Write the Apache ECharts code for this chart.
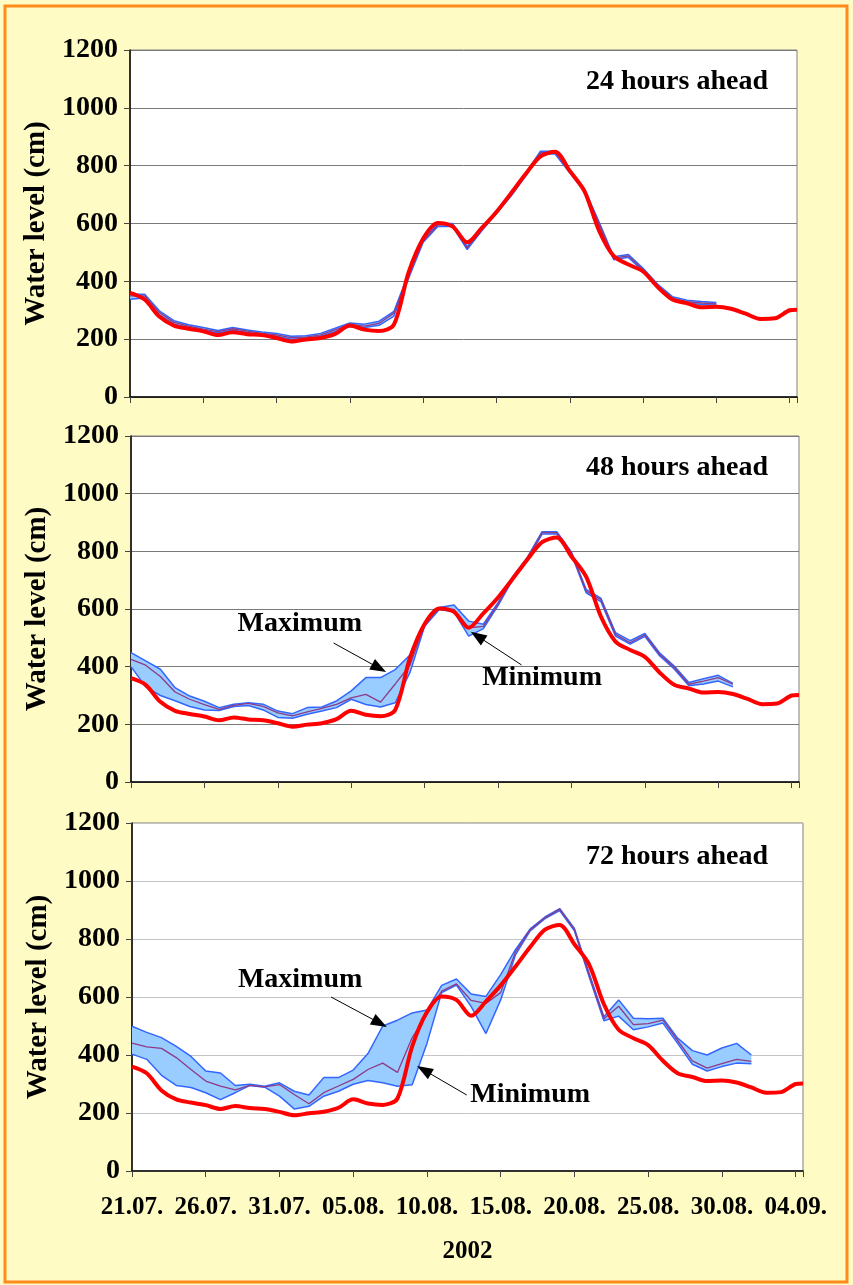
<!DOCTYPE html>
<html>
<head>
<meta charset="utf-8">
<script src="https://cdn.jsdelivr.net/npm/echarts@6/dist/echarts.min.js"></script>
<style>
  html, body { margin: 0; padding: 0; background: #FFFBC4; }
  #chart { width: 853px; height: 1285px; }
</style>
</head>
<body>
<div id="chart"></div>
<script>
// ---- Data (water level in cm, one value per day starting 21.07.2002) ----
const tickLabels = ['21.07.', '26.07.', '31.07.', '05.08.', '10.08.', '15.08.', '20.08.', '25.08.', '30.08.', '04.09.'];
const panelTitles = ['24 hours ahead', '48 hours ahead', '72 hours ahead'];
const yearLabel = '2002';
const yAxisName = 'Water level (cm)';

// observed water level (red); last sample is half a day after 04.09.
const observed = [360,337,278,247,236,227,214,224,217,214,
                  204,192,199,204,218,247,233,228,250,430,
                  548,602,590,535,585,640,705,772,832,848,
                  782,712,575,487,458,434,380,337,324,310,
                  312,305,288,270,272,300,302];
const observedDays = [0,1,2,3,4,5,6,7,8,9,10,11,12,13,14,15,16,17,18,19,20,21,22,23,24,25,26,27,28,29,30,31,32,33,34,35,36,37,38,39,40,41,42,43,44,45,45.5];

// 24 hours ahead forecasts
const max24  = [355,355,298,264,250,240,230,240,232,225,220,210,212,220,238,256,252,262,296,428,545,600,600,520,585,645,705,775,850,850,785,720,605,485,493,445,390,347,335,330,327];
const mean24 = [350,350,292,258,245,235,226,236,228,220,215,205,207,215,232,250,245,255,290,420,540,595,595,515,580,640,700,770,845,845,780,716,600,480,488,440,385,342,330,325,322];
const min24  = [338,342,284,252,240,230,221,231,223,215,210,200,202,210,226,244,240,248,280,410,535,590,590,510,575,635,695,765,840,840,775,710,595,475,483,435,380,337,325,320,317];

// 48 hours ahead forecasts
const max48  = [449,420,391,327,298,280,258,270,275,270,246,237,258,260,281,316,362,362,390,440,550,605,614,558,547,622,712,780,868,868,798,668,638,518,490,515,448,402,345,358,370,342];
const mean48 = [425,405,366,312,287,268,252,266,273,262,240,229,243,255,269,292,304,277,340,405,545,602,599,535,540,617,707,775,865,865,795,662,633,512,483,510,443,397,339,350,362,339];
const min48  = [400,330,300,282,262,250,248,262,265,250,224,221,235,246,258,287,269,260,275,380,540,598,590,506,532,612,702,770,860,860,790,656,626,506,478,505,438,392,334,340,350,330];

// 72 hours ahead forecasts
const max72  = [499,478,460,430,395,345,338,295,299,292,304,275,262,322,322,348,405,500,520,545,555,640,662,610,602,677,763,835,876,905,836,682,532,590,527,525,527,458,415,400,424,440,400];
const mean72 = [441,428,423,391,350,310,293,280,295,290,298,264,232,270,293,316,350,372,340,460,540,620,645,588,578,615,755,832,873,902,832,675,525,568,505,508,520,450,380,355,370,385,378];
const min72  = [403,385,330,295,288,270,246,270,295,289,258,214,223,258,275,299,312,304,292,297,440,615,641,567,474,590,745,828,870,898,828,670,518,534,487,497,510,440,368,345,360,372,370];

// annotations [label, label day, label value, arrow start day, start value, arrow end day, end value]
const notes48 = [
  ['Maximum', 11.5, 548, 13.8, 482, 16.9, 395],
  ['Minimum', 28.0, 361, 26.6, 406, 23.6, 506]
];
const notes72 = [
  ['Maximum', 11.4, 659, 13.5, 600, 16.8, 510],
  ['Minimum', 27.0, 262, 22.7, 262, 19.8, 348]
];

// ---- Chart ----
const FONT = "'Liberation Serif', 'Times New Roman', serif";
const panels = [
  {max: max24, mean: mean24, min: min24, notes: [], grid: {left: 130, top: 50, width: 667, height: 347}, split: '#7a7a7a', titleTop: 63},
  {max: max48, mean: mean48, min: min48, notes: notes48, grid: {left: 131, top: 436, width: 668, height: 346}, split: '#7a7a7a', titleTop: 449},
  {max: max72, mean: mean72, min: min72, notes: notes72, grid: {left: 132, top: 823, width: 671, height: 348}, split: '#c4c4c4', titleTop: 838}
];

const pairs = (arr) => arr.map((v, i) => [i, v]);

const option = {
  animation: false,
  backgroundColor: '#FFFBC4',
  graphic: [{
    type: 'rect', silent: true, z: 100,
    shape: {x: 5, y: 6, width: 842, height: 1276},
    style: {fill: 'none', stroke: '#FF8C1A', lineWidth: 3}
  }],
  title: panels.map((p, k) => ({
    text: panelTitles[k], right: 80, top: p.titleTop,
    textStyle: {fontFamily: FONT, fontSize: 28, fontWeight: 'bold', color: '#000'}
  })),
  grid: panels.map(p => Object.assign({show: true, backgroundColor: '#fff', borderColor: '#808080', borderWidth: 1}, p.grid)),
  xAxis: panels.map((p, k) => ({
    type: 'value', gridIndex: k, min: 0, max: 45.5, interval: 5,
    axisLine: {show: true, onZero: false, lineStyle: {color: '#000', width: 1.5}},
    axisTick: {show: true, inside: false, length: 6, lineStyle: {color: '#444'}},
    splitLine: {show: false},
    axisLabel: {
      show: k === 2, margin: 24, color: '#000', fontFamily: FONT, fontSize: 25, fontWeight: 'bold',
      formatter: v => (v % 5 === 0 ? tickLabels[v / 5] : '')
    },
    name: k === 2 ? yearLabel : '', nameLocation: 'middle', nameGap: 68,
    nameTextStyle: {color: '#000', fontFamily: FONT, fontSize: 25, fontWeight: 'bold'}
  })),
  yAxis: panels.map((p, k) => ({
    type: 'value', gridIndex: k, min: 0, max: 1200, interval: 200,
    axisLine: {show: true, lineStyle: {color: '#000', width: 1.5}},
    axisTick: {show: true, inside: false, length: 6, lineStyle: {color: '#444'}},
    splitLine: {show: true, lineStyle: {color: p.split, width: 1}},
    axisLabel: {margin: 12, color: '#000', fontFamily: FONT, fontSize: 28, fontWeight: 'bold', formatter: v => String(v)},
    name: yAxisName, nameLocation: 'middle', nameGap: 62, nameRotate: 90,
    nameTextStyle: {color: '#000', fontFamily: FONT, fontSize: 29, fontWeight: 'bold'}
  })),
  series: []
};

panels.forEach((p, k) => {
  // filled band between minimum and maximum forecast
  option.series.push({
    type: 'custom', xAxisIndex: k, yAxisIndex: k, z: 1, silent: true,
    data: [[0, 0]],
    encode: {x: 0, y: 1},
    renderItem: (params, api) => {
      const pts = [];
      p.max.forEach((v, i) => pts.push(api.coord([i, v])));
      for (let i = p.min.length - 1; i >= 0; i--) pts.push(api.coord([i, p.min[i]]));
      return {type: 'polygon', shape: {points: pts}, style: {fill: '#99CCFF', stroke: 'none'}};
    }
  });
  // band edges
  [p.max, p.min].forEach(arr => option.series.push({
    type: 'line', xAxisIndex: k, yAxisIndex: k, symbol: 'none', z: 2,
    data: pairs(arr),
    lineStyle: {color: '#3366FF', width: 1.5}
  }));
  // mean forecast
  const meanSeries = {
    type: 'line', xAxisIndex: k, yAxisIndex: k, symbol: 'none', z: 3,
    data: pairs(p.mean),
    lineStyle: {color: '#8E3A86', width: 1.3}
  };
  if (p.notes.length) {
    meanSeries.markLine = {
      silent: true, animation: false,
      label: {show: false},
      itemStyle: {color: '#000'},
      lineStyle: {color: '#000', width: 1, type: 'solid'},
      data: p.notes.map(n => [
        {coord: [n[3], n[4]], symbol: 'none'},
        {coord: [n[5], n[6]], symbol: 'triangle', symbolSize: [12, 16]}
      ])
    };
    meanSeries.markPoint = {
      silent: true, animation: false, symbol: 'circle', symbolSize: 1,
      itemStyle: {color: 'rgba(0,0,0,0)'},
      label: {show: true, position: 'inside', color: '#000', fontFamily: FONT, fontSize: 28, fontWeight: 'bold'},
      data: p.notes.map(n => ({coord: [n[1], n[2]], value: n[0], label: {formatter: n[0]}}))
    };
  }
  option.series.push(meanSeries);
  // observed
  option.series.push({
    type: 'line', xAxisIndex: k, yAxisIndex: k, symbol: 'none', z: 4, smooth: 0.3,
    data: observed.map((v, i) => [observedDays[i], v]),
    lineStyle: {color: '#FF0000', width: 4}
  });
});

const chart = echarts.init(document.getElementById('chart'));
chart.setOption(option);
</script>
</body>
</html>
